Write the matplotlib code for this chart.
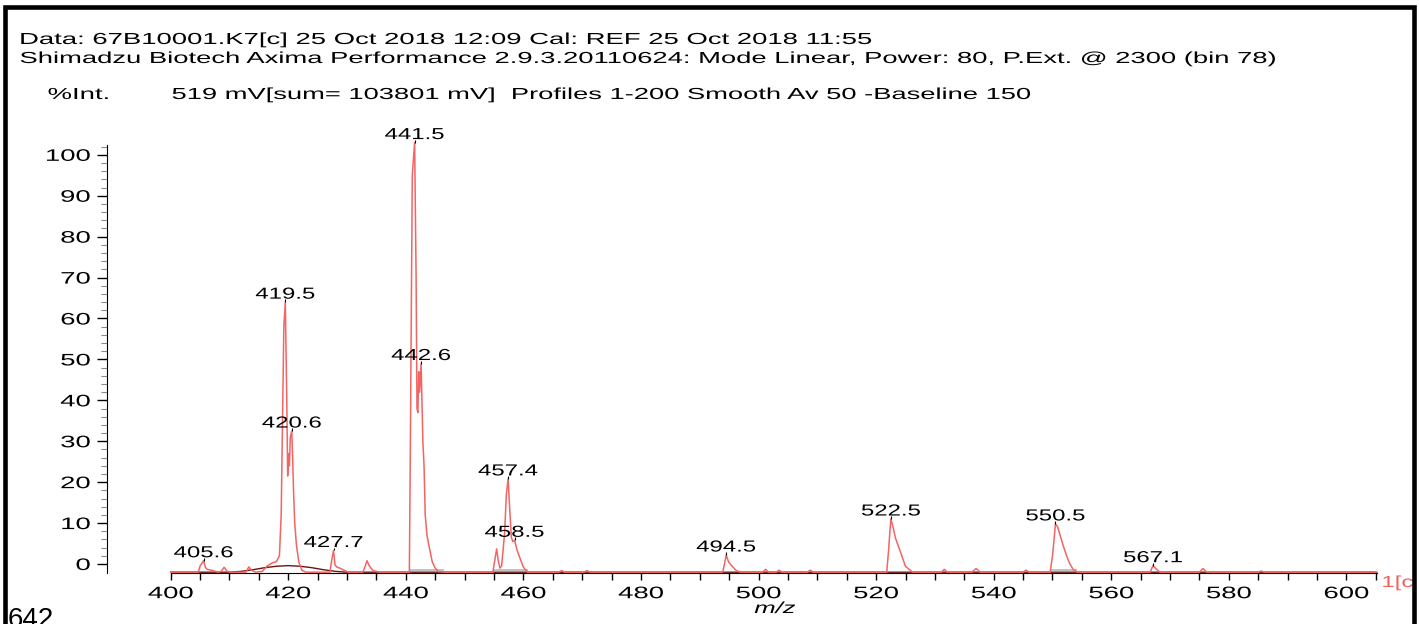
import matplotlib.pyplot as plt
from matplotlib.lines import Line2D
from matplotlib.patheffects import AbstractPathEffect
from matplotlib.transforms import Affine2D

plt.rcParams['font.family'] = ['Liberation Sans', 'DejaVu Sans']

# =============================================================================
# Spectrum data (m/z vs %Int.)
# =============================================================================
header_1 = "Data: 67B10001.K7[c] 25 Oct 2018 12:09 Cal: REF 25 Oct 2018 11:55"
header_2 = ("Shimadzu Biotech Axima Performance 2.9.3.20110624: Mode Linear, "
            "Power: 80, P.Ext. @ 2300 (bin 78)")
header_3 = "519 mV[sum= 103801 mV]  Profiles 1-200 Smooth Av 50 -Baseline 150"

profile_mz = [
    400.0, 404.7, 405.0, 405.6, 405.9, 406.2, 407.2, 408.0,
    408.6, 409.1, 409.6, 410.2, 412.8, 413.3, 413.8, 414.5,
    415.6, 416.4, 417.2, 418.0, 418.5, 418.8, 419.05, 419.25,
    419.5, 419.6, 419.75, 419.9, 420.05, 420.2, 420.35, 420.6,
    420.75, 420.9, 421.1, 421.4, 421.8, 422.3, 423.0,
    427.1, 427.4, 427.7, 427.95, 428.3, 428.8, 429.3, 430.2,
    432.7, 433.1, 433.4, 433.8, 434.4, 435.5,
    440.6, 440.75, 441.1, 441.5, 441.75, 441.9, 442.05, 442.2,
    442.35, 442.6, 442.75, 442.9, 443.1, 443.3, 443.6, 444.0,
    444.5, 445.0, 445.5, 446.5,
    454.8, 455.2, 455.45, 455.7, 456.0, 456.3, 456.8, 457.1,
    457.4, 457.65, 457.95, 458.2, 458.5, 458.9, 459.4, 460.0, 460.7,
    466.0, 466.5, 467.0, 470.3, 470.8, 471.3,
    493.9, 494.2, 494.5, 494.9, 495.4, 496.3, 497.0,
    500.7, 501.2, 501.7, 503.0, 503.5, 504.0, 508.3, 508.8, 509.3,
    521.8, 522.1, 522.5, 522.8, 523.3, 524.2, 525.0, 526.2,
    531.1, 531.6, 532.1, 536.3, 537.0, 537.7, 545.0, 545.5, 546.0,
    549.6, 550.0, 550.3, 550.5, 550.9, 551.4, 551.8, 552.4,
    552.9, 553.5, 554.2,
    566.6, 567.1, 567.7, 568.3, 575.0, 575.6, 576.2,
    585.0, 585.5, 586.0, 605.2,
]
profile_int = [
    -2.0, -2.0, -0.5, 0.8, -0.8, -1.3, -1.6, -2.0,
    -1.8, -0.8, -1.8, -2.0, -2.0, -0.7, -1.6, -2.0,
    -1.8, -0.5, 0.2, 0.6, 2.0, 12.0, 37.0, 58.0,
    64.0, 55.0, 40.0, 21.5, 27.0, 24.0, 31.0, 32.5,
    26.0, 18.0, 10.0, 4.5, 0.5, -1.5, -2.0,
    -2.0, 1.0, 3.3, -0.2, -0.8, -1.0, -1.4, -2.0,
    -2.0, -0.5, 0.8, -0.5, -1.6, -2.0,
    -2.0, 25.0, 95.0, 103.0, 70.0, 38.0, 37.0, 47.0,
    42.0, 49.0, 40.0, 30.0, 24.0, 12.0, 7.0, 4.0,
    0.5, -1.0, -1.8, -2.0,
    -2.0, 1.5, 3.7, 1.0, -1.0, -0.5, 7.5, 17.0,
    20.8, 14.0, 6.5, 5.5, 5.8, 3.5, 1.5, -0.8, -2.0,
    -2.0, -1.6, -2.0, -2.0, -1.6, -2.0,
    -2.0, 0.0, 2.2, 0.5, -0.4, -1.7, -2.0,
    -2.0, -1.3, -2.0, -2.0, -1.5, -2.0, -2.0, -1.5, -2.0,
    -2.0, 3.0, 11.0, 9.5, 6.3, 2.7, -0.6, -2.0,
    -2.0, -1.3, -2.0, -2.0, -1.1, -2.0, -2.0, -1.5, -2.0,
    -2.0, 2.0, 6.5, 9.8, 9.0, 6.5, 4.6, 2.0,
    0.2, -1.3, -2.0,
    -2.0, -0.4, -1.3, -2.0, -2.0, -1.1, -2.0,
    -2.0, -1.7, -2.0, -2.0,
]

# fitted baseline under the spectrum (broad hump around 420)
baseline_mz = [400.0, 410.0, 412.0, 414.0, 416.0, 418.0, 420.0, 422.0,
               424.0, 426.0, 428.0, 430.0, 605.2]
baseline_int = [-2.0, -2.0, -1.8, -1.4, -0.9, -0.55, -0.4, -0.55,
                -0.9, -1.4, -1.8, -2.0, -2.0]

# integration windows drawn as grey bars on the baseline
window_start = [440.5, 454.8, 549.5]
window_end = [446.5, 460.8, 554.2]

# labelled peaks
peak_mz = [405.6, 419.5, 420.6, 427.7, 441.5, 442.6, 457.4, 458.5,
           494.5, 522.5, 550.5, 567.1]
peak_int = [profile_int[profile_mz.index(p)] for p in peak_mz]

x_major = list(range(400, 601, 20))
x_minor = list(range(400, 606, 5))
y_major = list(range(0, 101, 10))
y_minor = list(range(0, 103, 2))


class Widen(AbstractPathEffect):
    """Stretch glyphs sideways around a fixed point of the text (0=left, 1=right)."""

    def __init__(self, sx, anchor=0.0):
        super().__init__()
        self.sx = sx
        self.anchor = anchor

    def draw_path(self, renderer, gc, tpath, affine, rgbFace=None):
        ext = tpath.get_extents()
        x0 = ext.x0 + self.anchor * ext.width
        stretch = Affine2D().translate(-x0, 0).scale(self.sx, 1).translate(x0, 0)
        renderer.draw_path(gc, tpath, stretch + affine, rgbFace)


W = 1420
H = 624
fig = plt.figure(figsize=(W / 100, H / 100), dpi=100)
ax = fig.add_axes([107 / W, 51 / H, 1270 / W, 428 / H])

ax.hlines([-1.4] * len(window_start), window_start, window_end,
          color='#b8b8b8', lw=1.2, zorder=1)
ax.plot(baseline_mz, baseline_int, color='#6e1212', lw=1.0, zorder=2)
ax.plot(profile_mz, profile_int, color='#f36464', lw=1.1, zorder=3, clip_on=False)

for p, v in zip(peak_mz, peak_int):
    ax.vlines(p, v, v + 0.7, color='black', lw=0.8, zorder=4, clip_on=False)
    ax.annotate(f'{p:.1f}', (p, v), xytext=(0, 2.5), textcoords='offset points',
                ha='center', va='baseline', fontsize=11.5, annotation_clip=False,
                path_effects=[Widen(1.5, 0.5)])

ax.set_xlim(389.17, 605.2)
ax.set_ylim(-2.2, 102.4)
ax.spines[['top', 'right']].set_visible(False)
ax.spines['bottom'].set_bounds(400, 605.2)

ax.set_xticks(x_major)
ax.set_xticks(x_minor, minor=True)
ax.set_yticks(y_major)
ax.set_yticks(y_minor, minor=True)
ax.tick_params(axis='x', which='both', length=5, width=1, pad=4.5, labelsize=12)
ax.tick_params(axis='y', which='major', length=7, width=1, pad=5, labelsize=12)
ax.tick_params(axis='y', which='minor', length=4, width=0.8, color='#8a8a8a')
for lab in ax.get_xticklabels():
    lab.set_path_effects([Widen(1.65, 0.5)])
for lab in ax.get_yticklabels():
    lab.set_path_effects([Widen(1.65, 1.0)])

# header block
fig.text(20 / W, 1 - 44 / H, header_1, fontsize=11.5, va='baseline',
         path_effects=[Widen(1.72, 0.0)])
fig.text(20 / W, 1 - 63 / H, header_2, fontsize=11.5, va='baseline',
         path_effects=[Widen(1.715, 0.0)])
fig.text(48 / W, 1 - 99 / H, '%Int.', fontsize=11.5, va='baseline',
         path_effects=[Widen(1.72, 0.0)])
fig.text(172 / W, 1 - 99 / H, header_3, fontsize=11.5, va='baseline',
         path_effects=[Widen(1.71, 0.0)])

fig.text(775 / W, 1 - 613 / H, 'm/z', style='italic', fontsize=11.5,
         ha='center', va='baseline', path_effects=[Widen(1.6, 0.5)])
fig.text(1382 / W, 1 - 587 / H, '1[c', color='#f26060', fontsize=11.5,
         va='baseline', path_effects=[Widen(1.5, 0.0)])
fig.text(8 / W, -3 / H, '642', fontsize=20, va='baseline')

# window frame
fig.add_artist(Line2D([5 / W, 5 / W, 1413.5 / W, 1413.5 / W],
                      [-0.05, 1 - 7 / H, 1 - 7 / H, -0.05],
                      transform=fig.transFigure, color='black', lw=3.3,
                      solid_joinstyle='miter', zorder=10))

fig.savefig('out.png', dpi=100, facecolor='white')
